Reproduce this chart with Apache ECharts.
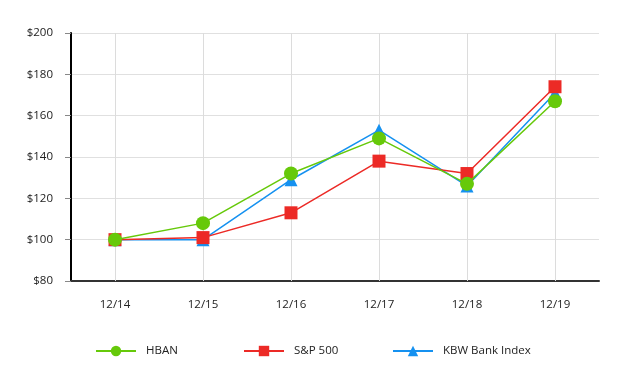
<!DOCTYPE html>
<html><head><meta charset="utf-8">
<script src="https://cdn.jsdelivr.net/npm/echarts@6/dist/echarts.min.js"></script>
<style>html,body{margin:0;padding:0;background:#fff}#c{width:634px;height:390px}</style>
</head><body><div id="c"></div>
<script>
const categories = ['12/14','12/15','12/16','12/17','12/18','12/19'];
const hban = [100, 108, 132, 149, 127, 167];
const sp500 = [100, 101, 113, 138, 132, 174];
const kbw = [100, 100, 129, 153, 126, 171];
const yTicks = {min: 80, max: 200, step: 20};
const seriesNames = ['HBAN', 'S&P 500', 'KBW Bank Index'];

const FONT = '"Open Sans", "Noto Sans", sans-serif';
const legendLefts = [95, 243, 392];
const chart = echarts.init(document.getElementById('c'));
chart.setOption({
  animation: false,
  grid: {left: 71, right: 35, top: 33, bottom: 109},
  legend: seriesNames.map((n, i) => ({
    top: 345, left: legendLefts[i], data: [n], padding: 0,
    itemWidth: 40, itemHeight: 13,
    textStyle: {fontFamily: FONT, fontSize: 11.5, color: '#222', padding: [0,0,0,5]}
  })),
  xAxis: {
    type: 'category', data: categories, boundaryGap: true,
    axisLine: {lineStyle: {color: '#333', width: 2}},
    axisTick: {alignWithLabel: true, length: 6, lineStyle: {color: '#888'}},
    splitLine: {show: false},
    axisLabel: {margin: 18, fontFamily: FONT, fontSize: 11.5, color: '#222'}
  },
  yAxis: {
    type: 'value', min: yTicks.min, max: yTicks.max, interval: yTicks.step,
    axisLine: {show: true, lineStyle: {color: '#000', width: 2}},
    axisTick: {show: true, length: 6, lineStyle: {color: '#888'}},
    splitLine: {lineStyle: {color: '#e0e0e0'}},
    axisLabel: {margin: 18, fontFamily: FONT, fontSize: 11.5, color: '#222', formatter: v => '$' + v}
  },
  series: [
    {name: 'KBW Bank Index', type: 'line', data: kbw, symbol: 'triangle', symbolSize: 13,
     color: '#1591f0', lineStyle: {width: 1.5}, z: 2,
     markLine: {silent: true, z: 1, symbol: ['none', 'none'], label: {show: false},
       lineStyle: {color: '#dcdcdc', type: 'solid', width: 1},
       data: categories.map(c => ({xAxis: c}))}},
    {name: 'S&P 500', type: 'line', data: sp500, symbol: 'rect', symbolSize: 13,
     color: '#ec2a26', lineStyle: {width: 1.5}, z: 3},
    {name: 'HBAN', type: 'line', data: hban, symbol: 'circle', symbolSize: 14,
     color: '#66c90a', lineStyle: {width: 1.5}, z: 4}
  ]
});
</script></body></html>
